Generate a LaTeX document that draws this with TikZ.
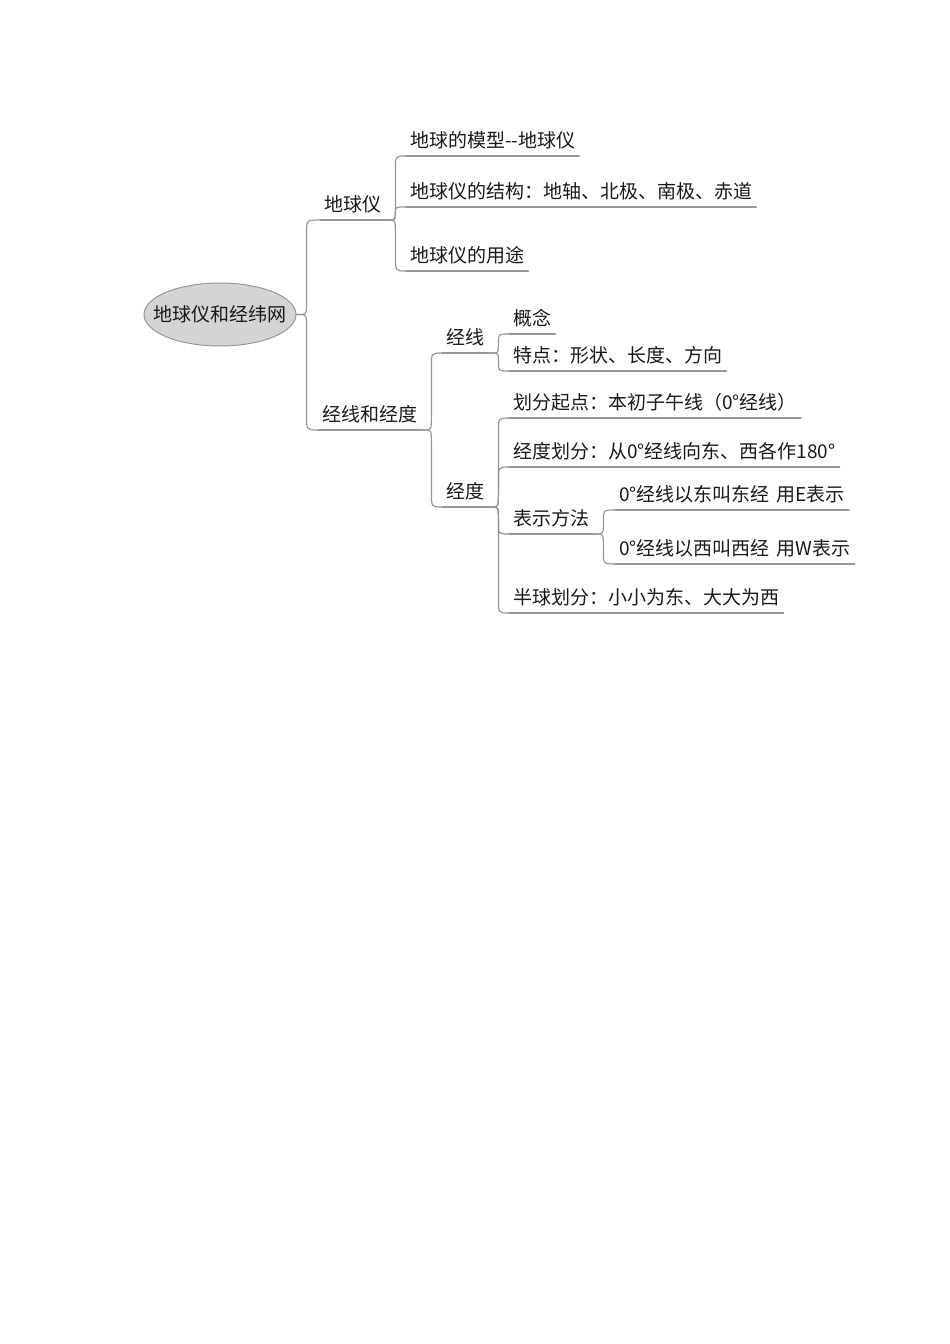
\documentclass[tikz,border=0pt]{standalone}
\usepackage{fontspec}
\newfontfamily\cjk{Noto Sans CJK SC}
\usetikzlibrary{shapes.geometric,calc}
\definecolor{txt}{RGB}{25,25,25}
\definecolor{linec}{RGB}{150,150,150}
\definecolor{rootfill}{RGB}{212,212,212}
\definecolor{rootborder}{RGB}{150,150,150}
\tikzset{
  topic/.style={font=\cjk\fontsize{19pt}{22pt}\selectfont, text=txt,
    inner xsep=4pt, inner ysep=4.5pt, text height=15pt, text depth=4pt,
    anchor=south west},
  conn/.style={draw=linec, line width=1.2pt, line cap=round, line join=round},
  rootshape/.style={ellipse, draw=rootborder, fill=rootfill, line width=1pt,
    minimum width=152pt, minimum height=63pt, inner sep=0pt},
  roottext/.style={font=\cjk\fontsize{19pt}{22pt}\selectfont, text=txt, inner sep=0pt}
}
\newcommand\mmup[2]{%
  \draw[conn] let \p1=(#1), \p2=(#2.south west), \n1={min(14pt,(\y2-\y1)/2.2)} in
    (\p1) -- (\x1+3pt,\y1) .. controls (\x1+10pt,\y1) .. (\x1+10pt,\y1+\n1)
    -- (\x1+10pt,\y2-\n1) .. controls (\x1+10pt,\y2) .. (\p2);}
\newcommand\mmdown[2]{%
  \draw[conn] let \p1=(#1), \p2=(#2.south west), \n1={min(14pt,(\y1-\y2)/2.2)} in
    (\p1) -- (\x1+3pt,\y1) .. controls (\x1+10pt,\y1) .. (\x1+10pt,\y1-\n1)
    -- (\x1+10pt,\y2+\n1) .. controls (\x1+10pt,\y2) .. (\p2);}
\begin{document}
\begin{tikzpicture}[x=1pt,y=-1pt]
\useasboundingbox (0,0) rectangle (950,1344);
% root
\node[rootshape] (root) at (220,314.5) {};
\node[roottext] (roottxt) at (root.center) {地球仪和经纬网};
% level 1
\node[topic] (geo) at (320,220) {地球仪};
\node[topic] (jw) at (318,430) {经线和经度};
% level 2 under 地球仪
\node[topic] (g1) at (406,156) {地球的模型-\kern0pt-地球仪};
\node[topic] (g2) at (406,207) {地球仪的结构：地轴、北极、南极、赤道};
\node[topic] (g3) at (406,271) {地球仪的用途};
% level 2 under 经线和经度
\node[topic] (jx) at (442,353) {经线};
\node[topic] (jd) at (442,507) {经度};
% level 3
\node[topic] (x1) at (509,334) {概念};
\node[topic] (x2) at (509,371) {特点：形状、长度、方向};
\node[topic] (d1) at (509,418) {划分起点：本初子午线（0°经线）};
\node[topic] (d2) at (509,467) {经度划分：从0°经线向东、西各作180°};
\node[topic] (d3) at (509,534) {表示方法};
\node[topic] (d4) at (509,613) {半球划分：小小为东、大大为西};
% level 4
\node[topic] (e1) at (615,510) {0°经线以东叫东经\hspace{7pt}用E表示};
\node[topic] (e2) at (615,564) {0°经线以西叫西经\hspace{7pt}用W表示};
% underlines
\foreach \n in {geo,jw,g1,g2,g3,jx,jd,x1,x2,d1,d2,d3,d4,e1,e2}
  \draw[conn] (\n.south west) -- (\n.south east);
% connectors
\mmup{root.east}{geo}
\mmdown{root.east}{jw}
\mmup{geo.south east}{g1}
\mmup{geo.south east}{g2}
\mmdown{geo.south east}{g3}
\mmup{jw.south east}{jx}
\mmdown{jw.south east}{jd}
\mmup{jx.south east}{x1}
\mmdown{jx.south east}{x2}
\mmup{jd.south east}{d1}
\mmup{jd.south east}{d2}
\mmdown{jd.south east}{d3}
\mmdown{jd.south east}{d4}
\mmup{d3.south east}{e1}
\mmdown{d3.south east}{e2}
\end{tikzpicture}
\end{document}
